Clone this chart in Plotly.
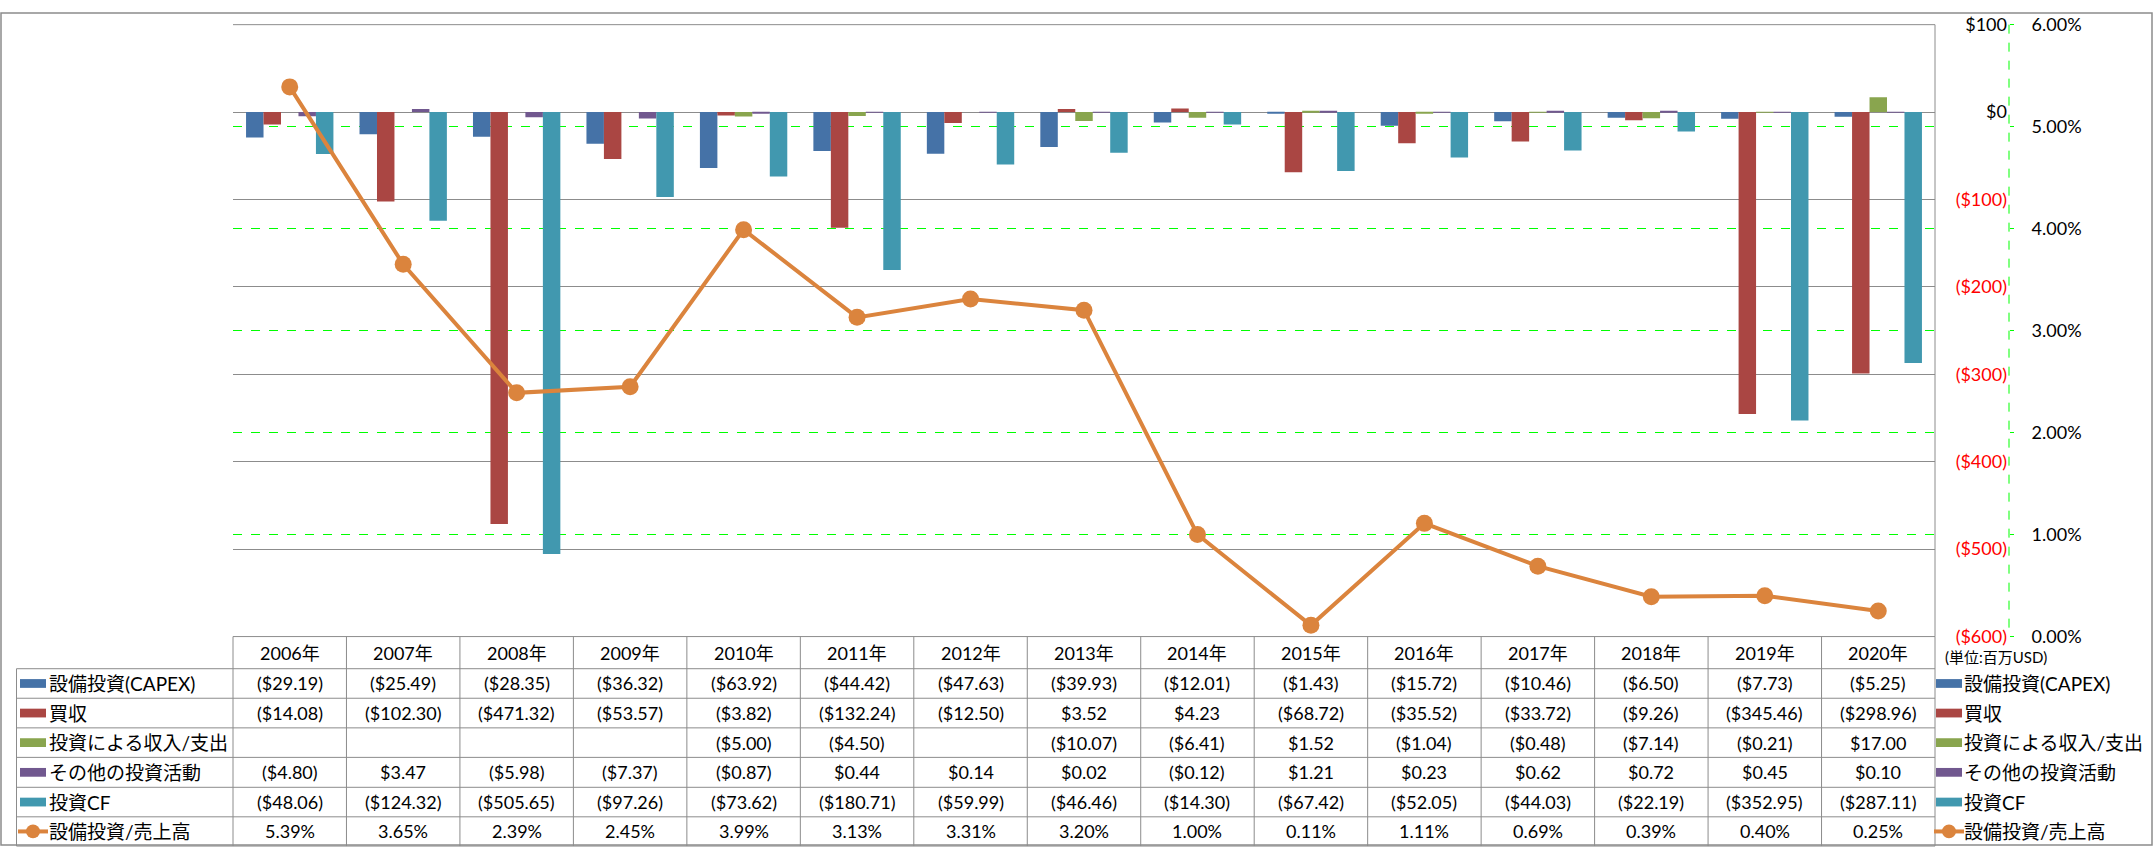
import plotly.graph_objects as go

W, H = 2156, 858

years = ["2006年", "2007年", "2008年", "2009年", "2010年", "2011年", "2012年", "2013年",
         "2014年", "2015年", "2016年", "2017年", "2018年", "2019年", "2020年"]

capex = [-29.19, -25.49, -28.35, -36.32, -63.92, -44.42, -47.63, -39.93, -12.01, -1.43,
         -15.72, -10.46, -6.50, -7.73, -5.25]
acquisition = [-14.08, -102.30, -471.32, -53.57, -3.82, -132.24, -12.50, 3.52, 4.23, -68.72,
               -35.52, -33.72, -9.26, -345.46, -298.96]
invest_income = [None, None, None, None, -5.00, -4.50, None, -10.07, -6.41, 1.52,
                 -1.04, -0.48, -7.14, -0.21, 17.00]
other_invest = [-4.80, 3.47, -5.98, -7.37, -0.87, 0.44, 0.14, 0.02, -0.12, 1.21,
                0.23, 0.62, 0.72, 0.45, 0.10]
invest_cf = [-48.06, -124.32, -505.65, -97.26, -73.62, -180.71, -59.99, -46.46, -14.30, -67.42,
             -52.05, -44.03, -22.19, -352.95, -287.11]
capex_ratio = [5.39, 3.65, 2.39, 2.45, 3.99, 3.13, 3.31, 3.20, 1.00, 0.11,
               1.11, 0.69, 0.39, 0.40, 0.25]

names = ["設備投資(CAPEX)", "買収", "投資による収入/支出", "その他の投資活動", "投資CF", "設備投資/売上高"]
colors = ["#4572A7", "#AA4643", "#89A54E", "#71588F", "#4198AF", "#DB843D"]

money_ticks = [100, 0, -100, -200, -300, -400, -500, -600]
pct_ticks = [0, 1, 2, 3, 4, 5, 6]

FONT = "Lato, Liberation Sans, Noto Sans CJK JP, sans-serif"
JFONT = "Lato, Noto Sans CJK JP, sans-serif"

# geometry (pixels)
PL, PR, PT, PB = 233, 1935, 13, 641
COLW = (PR - PL) / len(years)
ROW_Y = [641, 674, 704.3, 734.7, 765, 795.7, 826, 856]
LEG_L = 16.5


def px(x):
    return x / W


def py(y):
    return 1 - y / H


def fmt_money(v):
    if v is None:
        return ""
    return f"(${abs(v):,.2f})" if v < 0 else f"${v:,.2f}"


def fmt_tick(v):
    if v < 0:
        return f'<span style="color:#FF0000">(${abs(v)})</span>'
    return f"${v}"


fig = go.Figure()
series = [capex, acquisition, invest_income, other_invest, invest_cf]
for name, vals, c in zip(names[:5], series, colors[:5]):
    fig.add_trace(go.Bar(x=years, y=vals, name=name, marker=dict(color=c, line=dict(width=0)),
                         yaxis="y"))
fig.add_trace(go.Scatter(x=years, y=capex_ratio, name=names[5], yaxis="y2", mode="lines+markers",
                         line=dict(color=colors[5], width=4),
                         marker=dict(color=colors[5], size=17)))

shapes = []
annotations = []
GRAY = "#8C8C8C"


def hline(x0, x1, y, color=GRAY, width=1, dash=None):
    d = dict(type="line", xref="paper", yref="paper", x0=px(x0), x1=px(x1), y0=py(y), y1=py(y),
             line=dict(color=color, width=width))
    if dash:
        d["line"]["dash"] = dash
    shapes.append(d)


def vline(x, y0, y1, color=GRAY, width=1, dash=None):
    d = dict(type="line", xref="paper", yref="paper", x0=px(x), x1=px(x), y0=py(y0), y1=py(y1),
             line=dict(color=color, width=width))
    if dash:
        d["line"]["dash"] = dash
    shapes.append(d)


# outer chart border
shapes.append(dict(type="rect", xref="paper", yref="paper", x0=px(1), x1=px(2152), y0=py(855), y1=py(1),
                   line=dict(color=GRAY, width=1.5)))
# plot top edge (gray over the 6% dashed line) and right edge
hline(PL, PR, PT)
vline(PR, PT, PB)
# secondary axis dashed line
vline(2009, PT, PB, color="#00FF00", width=1, dash="dash")

# table lines
hline(PL, PR, ROW_Y[0])
for y in ROW_Y[1:]:
    hline(LEG_L, PR, y)
vline(LEG_L, ROW_Y[1], ROW_Y[-1])
for k in range(len(years) + 1):
    vline(PL + k * COLW, ROW_Y[0], ROW_Y[-1])

table_rows = [[fmt_money(v) for v in s] for s in series] + [[f"{v:.2f}%" for v in capex_ratio]]

# header
for k, yr in enumerate(years):
    cx = PL + (k + 0.5) * COLW
    annotations.append(dict(x=px(cx), y=py((ROW_Y[0] + ROW_Y[1]) / 2), xref="paper", yref="paper",
                            text=yr, showarrow=False, xanchor="center", yanchor="middle",
                            font=dict(family=FONT, size=18, color="#000")))
for r, row in enumerate(table_rows):
    cy = (ROW_Y[r + 1] + ROW_Y[r + 2]) / 2
    for k, txt in enumerate(row):
        if not txt:
            continue
        cx = PL + (k + 0.5) * COLW
        annotations.append(dict(x=px(cx), y=py(cy), xref="paper", yref="paper",
                                text=txt, showarrow=False, xanchor="center", yanchor="middle",
                                font=dict(family=FONT, size=18, color="#000")))


def legend_item(x_key, x_text, cy, i):
    c = colors[i]
    if i < 5:
        shapes.append(dict(type="rect", xref="paper", yref="paper", x0=px(x_key), x1=px(x_key + 26),
                           y0=py(cy + 4.5), y1=py(cy - 4.5), fillcolor=c, line=dict(width=0)))
    else:
        shapes.append(dict(type="line", xref="paper", yref="paper", x0=px(x_key - 2), x1=px(x_key + 28),
                           y0=py(cy), y1=py(cy), line=dict(color=c, width=4)))
        shapes.append(dict(type="circle", xref="paper", yref="paper", x0=px(x_key + 13 - 7),
                           x1=px(x_key + 13 + 7), y0=py(cy + 7), y1=py(cy - 7), fillcolor=c,
                           line=dict(width=0)))
    annotations.append(dict(x=px(x_text), y=py(cy), xref="paper", yref="paper", text=names[i],
                            showarrow=False, xanchor="left", yanchor="middle",
                            font=dict(family=JFONT, size=19, color="#000")))


for i in range(6):
    cy = (ROW_Y[i + 1] + ROW_Y[i + 2]) / 2
    legend_item(20, 47, cy, i)
    legend_item(1936, 1962, cy, i)

annotations.append(dict(x=px(1943), y=py(662), xref="paper", yref="paper", text="(単位:百万USD)",
                        showarrow=False, xanchor="left", yanchor="middle",
                        font=dict(family=JFONT, size=15, color="#000")))

fig.update_layout(
    width=W, height=H, autosize=False,
    margin=dict(l=0, r=0, t=0, b=0),
    paper_bgcolor="white", plot_bgcolor="white",
    showlegend=False,
    barmode="group", bargap=0.23, bargroupgap=0,
    xaxis=dict(domain=[px(PL), px(PR)], range=[-0.5, len(years) - 0.5], autorange=False,
               showticklabels=False, showgrid=False, zeroline=False,
               showline=False, ticks="", type="category"),
    yaxis=dict(domain=[py(PB), py(PT)], range=[-600, 100], anchor="free", position=px(2009),
               side="left", tickvals=money_ticks, ticktext=[fmt_tick(v) for v in money_ticks],
               showgrid=True, gridcolor=GRAY, gridwidth=1, zeroline=False, showline=False,
               ticks="", ticklabelstandoff=2,
               tickfont=dict(family=FONT, size=18, color="#000")),
    yaxis2=dict(domain=[py(PB), py(PT)], range=[0, 6], overlaying="y", anchor="free",
                position=px(2009), side="right", tickvals=pct_ticks,
                ticktext=[f"{v:.2f}%" for v in pct_ticks],
                showgrid=True, gridcolor="#00FF00", griddash="dash", gridwidth=1,
                zeroline=False, showline=False, ticks="outside", ticklen=4, tickcolor="#00FF00",
                ticklabelstandoff=14,
                tickfont=dict(family=FONT, size=18, color="#000")),
    shapes=shapes,
    annotations=annotations,
)

fig.write_html("out.html")
